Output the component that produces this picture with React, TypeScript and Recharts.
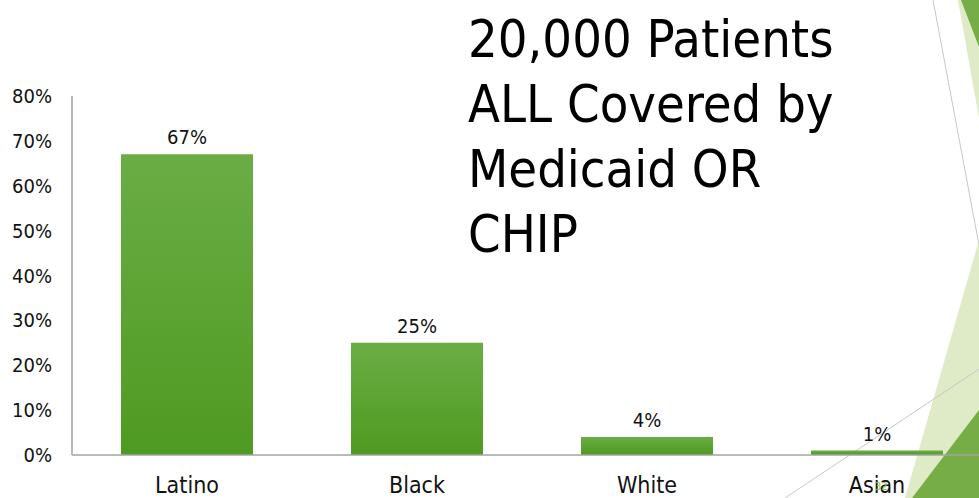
import { BarChart, Bar, XAxis, YAxis, LabelList } from 'recharts';

// share of patients by ethnicity, in percent
const groups = ['Latino', 'Black', 'White', 'Asian'];
const shares = [67, 25, 4, 1];
const yTicks = [0, 10, 20, 30, 40, 50, 60, 70, 80];

const titleLines = ['20,000 Patients', 'ALL Covered by', 'Medicaid OR', 'CHIP'];

const data = groups.map((name, i) => ({ name, value: shares[i] }));

const FONT = '"DejaVu Sans Condensed", "DejaVu Sans", sans-serif';

// theme triangles down the right edge of the slide
const Decor = () => (
    <svg width={979} height={498} style={{ position: 'absolute', left: 0, top: 0 }}>
        <polygon points="958,0 979,0 979,118" fill="#dfeac6" />
        <polygon points="961,0 979,0 979,47" fill="#76ad46" />
        <polygon points="979,240 979,498 905,498" fill="#dfeac6" />
        <polygon points="979,410 979,498 912,498" fill="#76ad46" />
        <line x1={933} y1={0} x2={979} y2={245} stroke="#c6c6c6" strokeWidth={1} />
        <line x1={785} y1={498} x2={979} y2={369} stroke="#c6c6c6" strokeWidth={1} />
    </svg>
);

const App = () => {
    return (
        <div
            style={{
                position: 'fixed',
                left: 0,
                top: 0,
                width: 979,
                height: 498,
                overflow: 'hidden',
                background: '#fff',
                fontFamily: FONT,
                fontStretch: 'condensed'
            }}
        >
            <Decor />
            <div style={{ position: 'absolute', left: 0, top: 0 }}>
                <BarChart
                    width={1000}
                    height={498}
                    data={data}
                    margin={{ top: 96, right: 8, bottom: 0, left: 0 }}
                    barCategoryGap={0}
                >
                    <defs>
                        <linearGradient id="barFill" x1="0" y1="0" x2="0" y2="1">
                            <stop offset="0%" stopColor="#6aad45" />
                            <stop offset="100%" stopColor="#4f9a22" />
                        </linearGradient>
                    </defs>
                    <XAxis
                        dataKey="name"
                        height={43}
                        axisLine={{ stroke: '#a3a3a3', strokeWidth: 1.5 }}
                        tickLine={false}
                        tickMargin={16}
                        interval={0}
                        tick={{ fill: '#111', fontSize: 23, fontFamily: FONT }}
                    />
                    <YAxis
                        width={72}
                        domain={[0, 80]}
                        ticks={yTicks}
                        interval={0}
                        axisLine={{ stroke: '#a3a3a3', strokeWidth: 1.5 }}
                        tickLine={false}
                        tickMargin={14}
                        tickFormatter={(v) => `${v}%`}
                        tick={{ fill: '#111', fontSize: 20, fontFamily: FONT }}
                    />
                    <Bar dataKey="value" fill="url(#barFill)" barSize={132} isAnimationActive={false}>
                        <LabelList
                            dataKey="value"
                            position="top"
                            offset={10}
                            formatter={(v: any) => `${v}%`}
                            style={{ fill: '#111', fontSize: 20, fontFamily: FONT }}
                        />
                    </Bar>
                </BarChart>
            </div>
            <div
                style={{
                    position: 'absolute',
                    left: 468,
                    top: 7,
                    fontSize: 52,
                    lineHeight: '65px',
                    color: '#000',
                    whiteSpace: 'nowrap'
                }}
            >
                {titleLines.map((line) => (
                    <div key={line}>{line}</div>
                ))}
            </div>
            <div
                style={{
                    position: 'absolute',
                    left: 875,
                    top: 480,
                    fontSize: 11,
                    color: '#8cc63f'
                }}
            >
                32
            </div>
        </div>
    );
};

export default App;
